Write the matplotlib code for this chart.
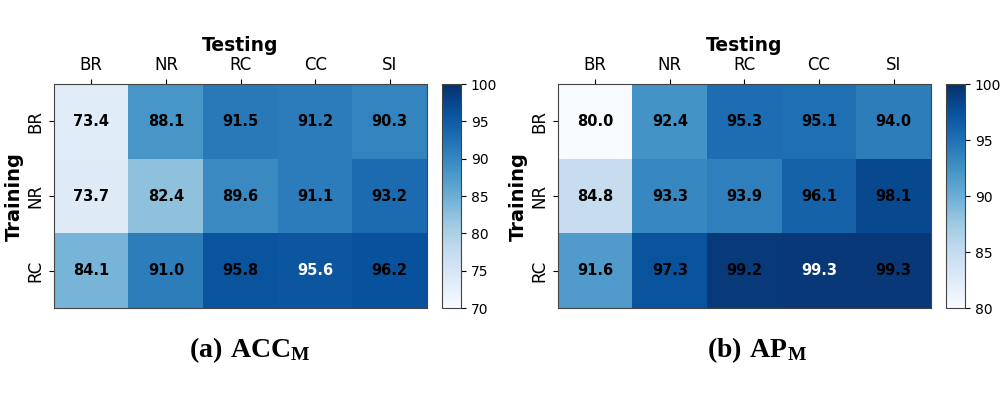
import matplotlib.pyplot as plt
import numpy as np

plt.rcParams['mathtext.fontset'] = 'custom'
plt.rcParams['mathtext.rm'] = 'Liberation Serif'
plt.rcParams['mathtext.bf'] = 'Liberation Serif:bold'

# Datos
train_labels = ['BR', 'NR', 'RC']
test_labels = ['BR', 'NR', 'RC', 'CC', 'SI']

acc = [[73.4, 88.1, 91.5, 91.2, 90.3],
       [73.7, 82.4, 89.6, 91.1, 93.2],
       [84.1, 91.0, 95.8, 95.6, 96.2]]

ap = [[80.0, 92.4, 95.3, 95.1, 94.0],
      [84.8, 93.3, 93.9, 96.1, 98.1],
      [91.6, 97.3, 99.2, 99.3, 99.3]]

# celdas con texto blanco (fila, columna)
white_cells = [(2, 3)]

fig = plt.figure(figsize=(10.01, 3.99), dpi=100)

panels = [
    (acc, 70, 100, [70, 75, 80, 85, 90, 95, 100], 0.054, 0.4416, r'$\mathbf{(a)\ ACC_M}$', 0.25),
    (ap, 80, 100, [80, 85, 90, 95, 100], 0.5574, 0.945, r'$\mathbf{(b)\ AP_M}$', 0.756),
]

for data, vmin, vmax, cticks, x0, cx0, caption, capx in panels:
    data = np.array(data)
    ax = fig.add_axes([x0, 0.228, 0.3726, 0.561])
    im = ax.imshow(data, cmap='Blues', vmin=vmin, vmax=vmax, aspect='auto')
    for i in range(data.shape[0]):
        for j in range(data.shape[1]):
            color = 'white' if (i, j) in white_cells else 'black'
            ax.text(j, i, f'{data[i, j]:.1f}', ha='center', va='center',
                    fontsize=10.5, fontweight='bold', color=color)
    ax.set_xticks(range(len(test_labels)))
    ax.set_xticklabels(test_labels, fontsize=12)
    ax.set_yticks(range(len(train_labels)))
    ax.set_yticklabels(train_labels, fontsize=12, rotation=90, va='center')
    ax.xaxis.tick_top()
    ax.xaxis.set_label_position('top')
    ax.set_xlabel('Testing', fontsize=13.5, fontweight='bold', labelpad=4)
    ax.set_ylabel('Training', fontsize=14, fontweight='bold', labelpad=2)
    for s in ax.spines.values():
        s.set_color('#444444')

    cax = fig.add_axes([cx0, 0.228, 0.019, 0.561])
    cb = fig.colorbar(im, cax=cax, ticks=cticks)
    cb.ax.tick_params(labelsize=10)
    cb.outline.set_edgecolor('#444444')

    fig.text(capx, 0.123, caption, ha='center', va='center', fontsize=20)

plt.savefig('out.png', dpi=100)
plt.close()
